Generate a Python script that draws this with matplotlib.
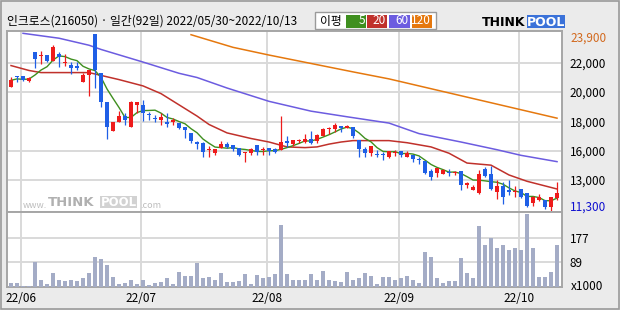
import matplotlib
matplotlib.use("Agg")
import matplotlib.pyplot as plt
from matplotlib.patches import Rectangle
import numpy as np
import pandas as pd

plt.rcParams['font.family'] = ['Noto Sans CJK KR', 'DejaVu Sans']

title = "인크로스(216050) · 일간(92일) 2022/05/30~2022/10/13"

# daily candles, 2022/05/30 .. 2022/10/13 (92 trading days)
opens = [20100, 20900, 20900, 20550, 22600, 22300, 22400, 21950, 22450, 21850,
         21700, 21600, 20500, 20950, 23900, 21100, 19050, 17000, 17600, 18050,
         17300, 18850, 18850, 18150, 17900, 17750, 17600, 17600, 17550, 17300,
         16850, 16200, 16100, 15650, 15400, 15800, 16050, 16000, 15800, 15400,
         15400, 16000, 15600, 15800, 15700, 15650, 16300, 16050, 16300, 16200,
         16400, 16250, 16650, 17150, 17150, 17350, 17200, 17250, 16350, 15700,
         15450, 15350, 15300, 15150, 15450, 15550, 15150, 15300, 14950, 14850,
         14150, 14000, 13950, 14050, 14000, 14100, 13150, 12800, 12600, 14250,
         13900, 12650, 13050, 12800, 12650, 12850, 12600, 11850, 12100, 12050,
         11550, 12200]
highs = [20850, 20900, 20900, 20800, 22600, 22700, 22400, 23150, 22600, 22500,
         21900, 21900, 21100, 21300, 23900, 21100, 19050, 17600, 18400, 18250,
         19100, 19050, 19200, 18350, 18100, 18250, 18250, 17900, 17550, 17300,
         16850, 16300, 16200, 15950, 15700, 16300, 16200, 16000, 15800, 15500,
         15800, 16000, 15850, 15800, 15750, 18050, 16650, 16350, 16400, 16750,
         17000, 16800, 17200, 17300, 17550, 17350, 17400, 17250, 16350, 15850,
         15950, 15650, 15500, 15550, 15650, 15550, 15550, 15300, 15150, 14850,
         14250, 14350, 14250, 14300, 14150, 14100, 13350, 13100, 14200, 14450,
         14500, 13500, 13350, 13500, 13050, 12850, 12600, 12350, 12500, 12050,
         12250, 13350]
lows = [20100, 20500, 20550, 20500, 21500, 21750, 21900, 21950, 21550, 21600,
        21050, 21300, 20450, 19500, 20050, 18700, 16450, 17000, 17600, 17400,
        17300, 18250, 17700, 17750, 17600, 17400, 17300, 17400, 17100, 16500,
        16100, 15700, 15100, 15150, 15300, 15750, 15750, 15550, 15200, 14750,
        15250, 15250, 15300, 15250, 15400, 15650, 15850, 15950, 16100, 16150,
        16050, 16150, 16650, 16750, 16900, 16900, 17200, 16500, 15100, 15100,
        15200, 15100, 14950, 15050, 15200, 15150, 15100, 14800, 14650, 13950,
        13500, 13700, 13900, 13800, 13850, 12800, 12950, 12750, 12500, 13700,
        12800, 12150, 11800, 12400, 12300, 12200, 11550, 11650, 12000, 11400,
        11300, 12100]
closes = [20600, 20800, 20600, 20750, 22150, 22350, 22000, 22950, 22250, 21900,
          21450, 21450, 20950, 21300, 21300, 19050, 17300, 17600, 18050, 17750,
          19050, 19050, 18300, 18100, 17850, 18000, 17500, 17750, 17200, 17050,
          16250, 16050, 15500, 15700, 15700, 16050, 15850, 15700, 15250, 15500,
          15700, 15500, 15650, 15550, 15500, 16200, 16100, 16350, 16350, 16400,
          16150, 16700, 17150, 17200, 17400, 17200, 17350, 16600, 15700, 15450,
          15950, 15300, 15250, 15550, 15500, 15250, 15400, 15000, 14900, 14000,
          13700, 14350, 14200, 14000, 14050, 13150, 13250, 13000, 13950, 13800,
          12850, 13050, 12300, 12650, 12700, 12300, 11650, 12300, 12250, 11600,
          12250, 12600]
# volume, x1000 shares
volumes = [16, 13, 4, 4, 90, 25, 10, 50, 25, 22, 25, 21, 34, 49, 108, 100, 80, 37,
           12, 15, 25, 10, 25, 6, 16, 18, 31, 12, 55, 39, 39, 85, 34, 37, 25, 49,
           18, 18, 22, 47, 12, 43, 34, 37, 47, 224, 47, 27, 25, 25, 47, 25, 59, 27,
           22, 18, 55, 27, 34, 49, 39, 12, 37, 37, 27, 34, 39, 25, 15, 126, 108, 31,
           15, 21, 22, 105, 49, 31, 220, 152, 177, 141, 152, 134, 141, 134, 264, 141,
           37, 37, 55, 152]

# moving averages (day index, price)
ma20_day = [0, 3, 5, 13, 15, 18, 22, 25, 28, 31, 33, 36, 40, 43, 46, 49, 51, 53, 55,
            57, 63, 66, 70, 73, 76, 80, 83, 86, 91]
ma20_val = [21650, 21300, 21150, 21150, 20950, 20650, 20200, 19650, 18850, 18050,
            17450, 16850, 16450, 16200, 15850, 15800, 15850, 16050, 16200, 16300,
            16300, 16150, 15850, 15400, 14700, 14550, 13850, 13400, 12850]
ma60_day = [2, 8, 13, 15, 22, 28, 31, 36, 43, 50, 56, 63, 68, 75, 81, 85, 91]
ma60_val = [23950, 23600, 23100, 22800, 21900, 21100, 20800, 20050, 19100, 18400,
            18000, 17550, 16800, 16200, 15650, 15250, 14800]
ma120_day = [30, 37, 43, 50, 57, 63, 77, 91]
ma120_val = [23850, 22950, 22400, 21800, 21200, 20700, 19300, 17900]

month_labels = ['22/06', '22/07', '22/08', '22/09', '22/10']
month_start = [2, 22, 43, 65, 85]
price_labels = ['13,000', '16,000', '18,000', '20,000', '22,000']
vol_ticks = [89, 177]
max_label = '23,900'
min_label = '11,300'

RED = '#ee1b1b'
BLUE = '#1f5fe6'
GRID = '#d9d9d9'
EDGE = '#a6a6a6'

W, H = 620, 310


def fx(x):
    return x / W


def fy(y):
    return 1 - y / H


fig = plt.figure(figsize=(6.2, 3.1), dpi=100)
fig.patch.set_facecolor('#ebebeb')

ax = fig.add_axes([fx(7), fy(212), (562 - 7) / W, (212 - 31) / H])
axv = fig.add_axes([fx(7), fy(287), (562 - 7) / W, (287 - 212) / H], sharex=ax)

o = np.array(opens, float)
h = np.array(highs, float)
l = np.array(lows, float)
c = np.array(closes, float)
x = np.arange(len(c))
cols = np.where(c >= o, RED, BLUE)

ax.set_xlim(-0.67, 91.83)
ylo, yhi = 11210, 24115
ax.set_ylim(ylo, yhi)

# moving averages
ma5 = pd.Series(c).rolling(5, min_periods=1).mean()
ax.plot(ma120_day, ma120_val, color='#e5780e', lw=1.1, zorder=2)
ax.plot(ma60_day, ma60_val, color='#6c5ce0', lw=1.1, zorder=2)
ax.plot(ma20_day, ma20_val, color='#c0312b', lw=1.1, zorder=2)
ax.plot(x, ma5, color='#3f8f1f', lw=1.0, zorder=2)

# candles
ax.vlines(x, l, h, colors=cols, lw=0.9, zorder=3)
body = np.maximum(np.abs(c - o), 70)
ax.bar(x, body, bottom=np.minimum(o, c), width=0.8, color=cols, zorder=4)

# gridlines
grid_frac = np.array([32, 61, 90, 120, 149]) / 181
ax.set_yticks(ylo + grid_frac * (yhi - ylo))
ax.set_yticklabels(price_labels)
ax.yaxis.tick_right()
ax.set_xticks(np.array(month_start) - 0.4)
ax.tick_params(axis='x', length=0, labelbottom=False)
ax.tick_params(axis='y', length=0, pad=5.5, labelsize=8.5)
ax.grid(True, color=GRID, lw=1.4)
ax.set_axisbelow(True)

ax.annotate(max_label, xy=(1, max(highs)), xycoords=('axes fraction', 'data'),
            xytext=(8, -4), textcoords='offset pixels', color='#d2691e',
            fontsize=8.5, va='center', ha='left', annotation_clip=False)
ax.annotate(min_label, xy=(1, min(lows)), xycoords=('axes fraction', 'data'),
            xytext=(8, 4), textcoords='offset pixels', color='#1010d0',
            fontsize=8.5, va='center', ha='left', annotation_clip=False)

# volume
axv.bar(x, volumes, width=0.75, color='#a4acc6', zorder=3)
axv.set_ylim(0, 271)
axv.set_yticks(vol_ticks)
axv.set_yticklabels([str(v) for v in vol_ticks])
axv.yaxis.tick_right()
axv.tick_params(axis='y', length=0, pad=5.5, labelsize=8.5)
axv.set_xticks(np.array(month_start) - 0.4)
axv.set_xticklabels(month_labels)
axv.tick_params(axis='x', length=0, pad=3.5, labelsize=8.5)
axv.grid(True, color=GRID, lw=1.4)
axv.set_axisbelow(True)
fig.text(fx(571), fy(286), 'x1000', fontsize=8.5, va='center', ha='left')

for a in (ax, axv):
    for s in a.spines.values():
        s.set_color(EDGE)
        s.set_linewidth(1.4)

# watermark
ax.text(fx(23), fy(205), 'www.', transform=fig.transFigure, color='#bdbdbd',
        fontsize=6.5, va='center', ha='left', zorder=1)
ax.text(fx(48), fy(202), 'THINK', transform=fig.transFigure, color='#b0b0b0',
        fontsize=9.5, fontweight='bold', family='DejaVu Sans', va='center', ha='left', zorder=1)
ax.add_patch(Rectangle((fx(100), fy(208)), 37 / W, 12 / H, transform=fig.transFigure,
                       facecolor='#d2d2d2', edgecolor='none', zorder=1))
ax.text(fx(118.5), fy(202), 'POOL', transform=fig.transFigure, color='white',
        fontsize=8.5, fontweight='bold', family='DejaVu Sans', va='center', ha='center', zorder=1)
ax.text(fx(140), fy(205), '.com', transform=fig.transFigure, color='#bdbdbd',
        fontsize=6.5, va='center', ha='left', zorder=1)

# header
fig.text(fx(7), fy(21), title, fontsize=8.5, va='center', ha='left')

fig.patches.append(Rectangle((fx(315), fy(29)), 121 / W, 17 / H, transform=fig.transFigure,
                             facecolor='white', edgecolor='#9a9a9a', lw=1, figure=fig))
fig.text(fx(320), fy(21), '이평', fontsize=8.5, va='center', ha='left')
legend_boxes = [('5', '#3f8f1f', 346, 366), ('20', '#c0312b', 367, 387),
                ('60', '#6c5ce0', 389, 410), ('120', '#e5780e', 412, 432)]
for lab, col, x0, x1 in legend_boxes:
    fig.patches.append(Rectangle((fx(x0), fy(27.5)), (x1 - x0) / W, 12.5 / H,
                                 transform=fig.transFigure, facecolor=col,
                                 edgecolor='none', figure=fig))
    fig.text(fx(x1 - 1), fy(21), lab, color='white', fontsize=8.5, va='center', ha='right')

# logo
fig.text(fx(482), fy(22), 'THINK', fontsize=9, fontweight='bold', family='DejaVu Sans',
         va='center', ha='left')
fig.patches.append(Rectangle((fx(527), fy(28)), 38 / W, 13 / H, transform=fig.transFigure,
                             facecolor='#3b72d9', edgecolor='none', figure=fig))
fig.text(fx(546), fy(22), 'POOL', color='white', fontsize=9, fontweight='bold',
         family='DejaVu Sans', va='center', ha='center')

# outer frame
fig.patches.append(Rectangle((fx(1), fy(309)), 618 / W, 308 / H, transform=fig.transFigure,
                             facecolor='none', edgecolor='#9a9a9a', lw=1.2, figure=fig))

fig.savefig('out.png', dpi=100, facecolor=fig.get_facecolor())
